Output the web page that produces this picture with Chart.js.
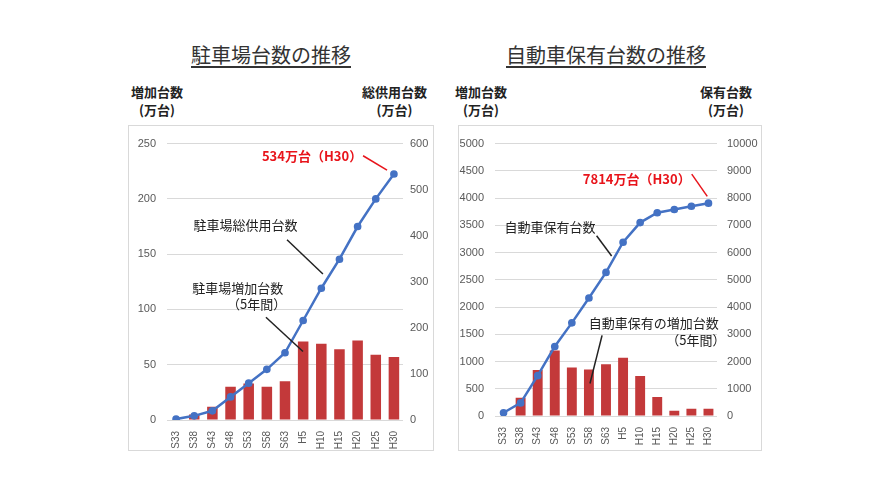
<!DOCTYPE html>
<html>
<head>
<meta charset="utf-8">
<script src="https://cdn.jsdelivr.net/npm/chart.js@4/dist/chart.umd.min.js"></script>
<style>
  body { margin: 0; background: #fff; width: 896px; height: 504px; position: relative; overflow: hidden;
         font-family: "Noto Sans CJK JP", sans-serif; color: #222; }
  .title { position: absolute; top: 40px; font-size: 20px; text-decoration: underline; text-underline-offset: 3px;
           transform: translateX(-50%); white-space: nowrap; color: #333; }
  .axt { position: absolute; font-size: 13px; font-weight: bold; text-align: center; line-height: 18px; white-space: nowrap; }
  .box { position: absolute; border: 1px solid #d9d9d9; box-sizing: border-box; }
</style>
</head>
<body>
<div class="title" style="left:271px">駐車場台数の推移</div>
<div class="title" style="left:606px">自動車保有台数の推移</div>

<div class="axt" style="left:131px; top:83px">増加台数<br>(万台)</div>
<div class="axt" style="left:362px; top:83px">総供用台数<br>(万台)</div>
<div class="axt" style="left:455px; top:83px">増加台数<br>(万台)</div>
<div class="axt" style="left:700px; top:83px">保有台数<br>(万台)</div>

<div class="box" style="left:128px; top:125px; width:306px; height:326px">
  <canvas id="parking" width="304" height="324"></canvas>
</div>
<div class="box" style="left:458px; top:125px; width:304px; height:326px">
  <canvas id="cars" width="302" height="324"></canvas>
</div>

<script>
// categories (years)
const years = ["S33", "S38", "S43", "S48", "S53", "S58", "S63", "H5", "H10", "H15", "H20", "H25", "H30"];

// parking: increase in 5 years (left axis) and total (right axis), 万台
const parkingIncrease = [0, 5, 12, 30, 33, 30, 35, 71, 69, 64, 72, 59, 57];
const parkingTotal = [2, 9, 20, 50, 80, 110, 146, 216, 286, 349, 420, 480, 534];

// cars: increase in 5 years (left axis) and owned total (right axis), 万台
const carIncrease = [0, 337, 843, 1204, 890, 854, 951, 1070, 735, 348, 96, 132, 132];
const carTotal = [119, 480, 1480, 2552, 3419, 4332, 5270, 6379, 7100, 7461, 7580, 7700, 7814];

const BAR = "#C3393A";
const LINE = "#4472C4";
const TICK = "#595959";
const GRID = "#d9d9d9";

// text callouts drawn on the chart, anchored in data units (category index, left-axis value)
const notesPlugin = {
    id: "notes",
    afterDatasetsDraw(chart, args, opts) {
        const ctx = chart.ctx;
        const xs = chart.scales.x;
        const ys = chart.scales.y;
        const px = (i) => xs.getPixelForValue(0) + i * (xs.getPixelForValue(1) - xs.getPixelForValue(0));
        ctx.save();
        (opts.items || []).forEach((n) => {
            ctx.font = (n.bold ? "bold " : "") + n.size + "px 'Noto Sans CJK JP'";
            ctx.fillStyle = n.color;
            ctx.textAlign = "center";
            ctx.textBaseline = "middle";
            n.lines.forEach((l) => ctx.fillText(l.t, px(l.x), ys.getPixelForValue(l.y)));
            if (n.leader) {
                const [x1, y1, x2, y2] = n.leader;
                ctx.strokeStyle = n.color;
                ctx.lineWidth = 1.5;
                ctx.beginPath();
                ctx.moveTo(px(x1), ys.getPixelForValue(y1));
                ctx.lineTo(px(x2), ys.getPixelForValue(y2));
                ctx.stroke();
            }
        });
        ctx.restore();
    },
};

const plain = (v) => String(v); // no thousands separators

function makeChart(id, bars, line, leftMax, leftStep, rightMax, rightStep, sizes, notes) {
    const ctx = document.getElementById(id).getContext("2d");
    return new Chart(ctx, {
        type: "bar",
        data: {
            labels: years,
            datasets: [
                {
                    type: "line",
                    data: line,
                    yAxisID: "y2",
                    borderColor: LINE,
                    backgroundColor: LINE,
                    borderWidth: 2.5,
                    pointRadius: 2.6,
                    pointBackgroundColor: LINE,
                    tension: 0,
                    order: 0,
                },
                {
                    data: bars,
                    yAxisID: "y",
                    backgroundColor: BAR,
                    barPercentage: 0.58,
                    categoryPercentage: 1,
                    order: 1,
                },
            ],
        },
        options: {
            responsive: false,
            animation: false,
            layout: { padding: { top: sizes.top, left: 0, right: 0, bottom: 0 } },
            plugins: {
                legend: { display: false },
                tooltip: { enabled: false },
                notes: { items: notes },
            },
            scales: {
                x: {
                    grid: { display: false },
                    border: { display: false },
                    afterFit: (s) => { s.height = sizes.bottom; },
                    ticks: {
                        color: TICK,
                        font: { family: "Liberation Sans", size: 10 },
                        minRotation: 90,
                        maxRotation: 90,
                        padding: 3,
                        autoSkip: false,
                    },
                },
                y: {
                    position: "left",
                    min: 0,
                    max: leftMax,
                    afterFit: (s) => { s.width = sizes.left; },
                    grid: { color: GRID, drawTicks: false, lineWidth: 1 },
                    border: { display: false },
                    ticks: { stepSize: leftStep, callback: plain, color: TICK, padding: sizes.lpad, font: { family: "Liberation Sans", size: 11 } },
                },
                y2: {
                    position: "right",
                    min: 0,
                    max: rightMax,
                    afterFit: (s) => { s.width = sizes.right; },
                    grid: { display: false, drawTicks: false },
                    border: { display: false },
                    ticks: { stepSize: rightStep, callback: plain, color: TICK, padding: sizes.rpad, font: { family: "Liberation Sans", size: 11 } },
                },
            },
        },
        plugins: [notesPlugin],
    });
}

makeChart("parking", parkingIncrease, parkingTotal, 250, 50, 600, 100,
    { top: 14, bottom: 30, left: 38, right: 30, lpad: 11, rpad: 7 },
    [
        { lines: [{ t: "534万台（H30）", x: 7.49, y: 239 }], color: "#e8141b", bold: true, size: 13, leader: [10.3, 239, 11.62, 226] },
        { lines: [{ t: "駐車場総供用台数", x: 3.83, y: 176 }], color: "#222", size: 13, leader: [6.11, 163, 8.09, 132] },
        { lines: [{ t: "駐車場増加台数", x: 3.4, y: 119.5 }, { t: "（5年間）", x: 4.44, y: 105 }], color: "#222", size: 13, leader: [4.95, 93, 6.99, 62] },
    ]);

makeChart("cars", carIncrease, carTotal, 5000, 500, 10000, 1000,
    { top: 14, bottom: 34, left: 36, right: 44, lpad: 11, rpad: 10 },
    [
        { lines: [{ t: "7814万台（H30）", x: 7.8, y: 4350 }], color: "#e8141b", bold: true, size: 13, leader: [11.02, 4440, 11.93, 4030] },
        { lines: [{ t: "自動車保有台数", x: 2.72, y: 3460 }], color: "#222", size: 13, leader: [5.45, 3309, 6.33, 2937] },
        { lines: [{ t: "自動車保有の増加台数", x: 8.79, y: 1703 }, { t: "（5年間）", x: 11.26, y: 1402 }], color: "#222", size: 13, leader: [5.77, 1480, 5.06, 596] },
    ]);
</script>
</body>
</html>
